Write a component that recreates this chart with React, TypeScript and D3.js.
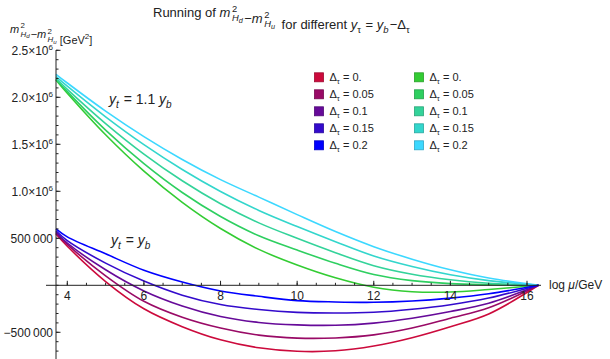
import React from "react";
import * as d3 from "d3";

// log10(mu / GeV) sample points
const logMu = [3.705, 4, 5, 6, 7, 8, 9, 10, 11, 12, 13, 14, 15, 16.3];

const deltas = ["0.", "0.05", "0.1", "0.15", "0.2"];

// y_t = y_b  (Delta_tau = 0 ... 0.2)
const lowerSeries = [
  [545e3, 415e3, 40e3, -250e3, -440e3, -580e3, -665e3, -702e3, -697e3, -646e3, -557e3, -440e3, -305e3, 0],
  [555e3, 435e3, 101e3, -170e3, -340e3, -455e3, -530e3, -562e3, -560e3, -527e3, -455e3, -350e3, -240e3, 0],
  [565e3, 450e3, 165e3, -60e3, -220e3, -332e3, -395e3, -421e3, -425e3, -402e3, -350e3, -279e3, -190e3, 0],
  [580e3, 475e3, 236e3, 45e3, -105e3, -205e3, -258e3, -288e3, -295e3, -287e3, -255e3, -207e3, -136e3, 0],
  [600e3, 515e3, 335e3, 160e3, 35e3, -60e3, -117e3, -163e3, -177e3, -181e3, -167e3, -136e3, -90e3, 0],
];

// y_t = 1.1 y_b
const upperSeries = [
  [2.184e6, 2.043e6, 1.601e6, 1.214e6, 882e3, 604e3, 382e3, 216e3, 80e3, -20e3, -68e3, -72e3, -45e3, 0],
  [2.19e6, 2.06e6, 1.651e6, 1.294e6, 987e3, 732e3, 527e3, 375e3, 234e3, 115e3, 50e3, 18e3, 6e3, 0],
  [2.2e6, 2.085e6, 1.721e6, 1.396e6, 1.112e6, 868e3, 664e3, 500e3, 347e3, 209e3, 118e3, 59e3, 22e3, 0],
  [2.22e6, 2.118e6, 1.792e6, 1.496e6, 1.232e6, 998e3, 796e3, 625e3, 464e3, 312e3, 200e3, 112e3, 50e3, 0],
  [2.245e6, 2.152e6, 1.853e6, 1.582e6, 1.339e6, 1.124e6, 938e3, 752e3, 572e3, 411e3, 278e3, 165e3, 77e3, 0],
];

const lowerColors = ["#cc0a3c", "#990a66", "#660a99", "#330acc", "#0000ff"];
const upperColors = ["#33cc33", "#2ecf60", "#33d39a", "#33d6cc", "#3cd8ff"];

const xTicks = [4, 6, 8, 10, 12, 14, 16];
const yTicks = [-5e5, 5e5, 1e6, 1.5e6, 2e6, 2.5e6];

const font = "'Liberation Sans', Arial, sans-serif";

const yLabel = (v: number) => {
  if (Math.abs(v) >= 1e6) {
    return (
      <>
        {(v / 1e6).toFixed(1)}×10
        <tspan dy={-4.5} fontSize={8}>6</tspan>
      </>
    );
  }
  return v < 0 ? "−500\u2009000" : "500\u2009000";
};

// m^2_{H_x} with stacked super/subscript
const MH = ({ s, size, tail = 0.15 }: { s: string; size: number; tail?: number }) => {
  const small = size * 0.72;
  const tiny = size * 0.56;
  const w2 = small * 0.556;
  return (
    <>
      <tspan fontStyle="italic">m</tspan>
      <tspan dx={size * 0.12} dy={-size * 0.42} fontSize={small}>2</tspan>
      <tspan dx={-w2} dy={size * 0.74} fontSize={small} fontStyle="italic">H</tspan>
      <tspan dy={size * 0.16} fontSize={tiny} fontStyle="italic">{s}</tspan>
      <tspan dx={size * tail} dy={-size * 0.48}>{""}</tspan>
    </>
  );
};

const App: React.FC = () => {
  const width = 610;
  const height = 359;

  const x = d3.scaleLinear().domain([4, 16]).range([67.3, 527]);
  const y = d3.scaleLinear().domain([-5e5, 2.5e6]).range([332.3, 50.3]);
  const x0 = 56;
  const y0 = y(0);

  const line = d3
    .line<number>()
    .x((d, i) => x(logMu[i]))
    .y((d) => y(d))
    .curve(d3.curveCatmullRom.alpha(0.5));

  const yMinor = d3.range(-8e5, 2.5e6 + 1, 1e5).filter((v) => y(v) <= height && y(v) >= 50);
  const xMinor = d3.range(3.5, 16.01, 0.5).filter((v) => x(v) > x0 + 2);

  return (
    <svg width={width} height={height} style={{ position: "absolute", left: 0, top: 0 }} fontFamily={font}>
      <rect width={width} height={height} fill="white" />

      {/* title */}
      <text x={153} y={17} fontSize={13} fill="#222">
        Running of <MH s="d" size={13} tail={0.3} />
        <tspan dx={1.5}>−</tspan>
        <MH s="u" size={13} tail={0.3} />
        <tspan dx={3}> for different </tspan>
        <tspan fontStyle="italic">y</tspan>
        <tspan dy={3.5} fontSize={9.5}>τ</tspan>
        <tspan dy={-3.5} dx={1}> = </tspan>
        <tspan fontStyle="italic">y</tspan>
        <tspan dy={3.5} fontSize={9.5} fontStyle="italic">b</tspan>
        <tspan dy={-3.5} dx={1}>−Δ</tspan>
        <tspan dy={3.5} fontSize={9.5}>τ</tspan>
      </text>

      {/* y axis label */}
      <text x={10} y={33} fontSize={11} fill="#222">
        <MH s="d" size={11} />
        <tspan dx={1}>−</tspan>
        <MH s="u" size={11} />
        <tspan> [GeV</tspan>
        <tspan dy={-4.5} fontSize={8}>2</tspan>
        <tspan dy={4.5}>]</tspan>
      </text>

      {/* curves */}
      <g fill="none" strokeWidth={1.6}>
        {upperSeries.map((s, i) => (
          <path key={"u" + i} d={line(s) || ""} stroke={upperColors[i]} />
        ))}
        {lowerSeries.map((s, i) => (
          <path key={"l" + i} d={line(s) || ""} stroke={lowerColors[i]} />
        ))}
      </g>

      {/* axes */}
      <g stroke="#222" strokeWidth={1}>
        <line x1={x0} x2={x0} y1={50} y2={height} />
        <line x1={46} x2={541} y1={y0} y2={y0} />
        {yMinor.map((v) => (
          <line key={"ym" + v} x1={x0} x2={x0 + 2.5} y1={y(v)} y2={y(v)} />
        ))}
        {yTicks.map((v) => (
          <line key={"yt" + v} x1={x0} x2={x0 + 4.5} y1={y(v)} y2={y(v)} />
        ))}
        {xMinor.map((v) => (
          <line key={"xm" + v} x1={x(v)} x2={x(v)} y1={y0} y2={y0 - 2.5} />
        ))}
        {xTicks.map((v) => (
          <line key={"xt" + v} x1={x(v)} x2={x(v)} y1={y0} y2={y0 - 4.5} />
        ))}
      </g>

      <g fontSize={12} fill="#222">
        {yTicks.map((v) => (
          <text key={"yl" + v} x={x0 - 3} y={y(v) + 4.3} textAnchor="end">
            {yLabel(v)}
          </text>
        ))}
        {xTicks.map((v) => (
          <text key={"xl" + v} x={x(v)} y={y0 + 14.5} textAnchor="middle">
            {v}
          </text>
        ))}
      </g>

      <text x={549} y={y0 + 4} fontSize={12} fill="#222">
        log <tspan fontStyle="italic">μ</tspan>/GeV
      </text>

      {/* annotations */}
      <text x={109} y={104} fontSize={14} fill="#222">
        <tspan fontStyle="italic">y</tspan>
        <tspan dy={3.5} fontSize={10} fontStyle="italic">t</tspan>
        <tspan dy={-3.5} dx={1}> = 1.1 </tspan>
        <tspan fontStyle="italic">y</tspan>
        <tspan dy={3.5} fontSize={10} fontStyle="italic">b</tspan>
      </text>
      <text x={111} y={245} fontSize={14} fill="#222">
        <tspan fontStyle="italic">y</tspan>
        <tspan dy={3.5} fontSize={10} fontStyle="italic">t</tspan>
        <tspan dy={-3.5} dx={1}> = </tspan>
        <tspan fontStyle="italic">y</tspan>
        <tspan dy={3.5} fontSize={10} fontStyle="italic">b</tspan>
      </text>

      {/* legend */}
      {[lowerColors, upperColors].map((cols, c) => (
        <g key={"leg" + c} transform={`translate(${314 + c * 100},0)`}>
          {deltas.map((d, i) => {
            const cy = 77.3 + i * 17;
            return (
              <g key={d}>
                <rect
                  x={0.5}
                  y={cy - 4.5}
                  width={9}
                  height={9}
                  fill={cols[i]}
                  stroke={d3.color(cols[i])!.darker(0.7).toString()}
                  strokeWidth={0.8}
                />
                <text x={15.5} y={cy + 4} fontSize={11} fill="#222">
                  Δ<tspan dy={2.5} fontSize={7.5}>τ</tspan>
                  <tspan dy={-2.5}> = {d}</tspan>
                </text>
              </g>
            );
          })}
        </g>
      ))}
    </svg>
  );
};

export default App;
